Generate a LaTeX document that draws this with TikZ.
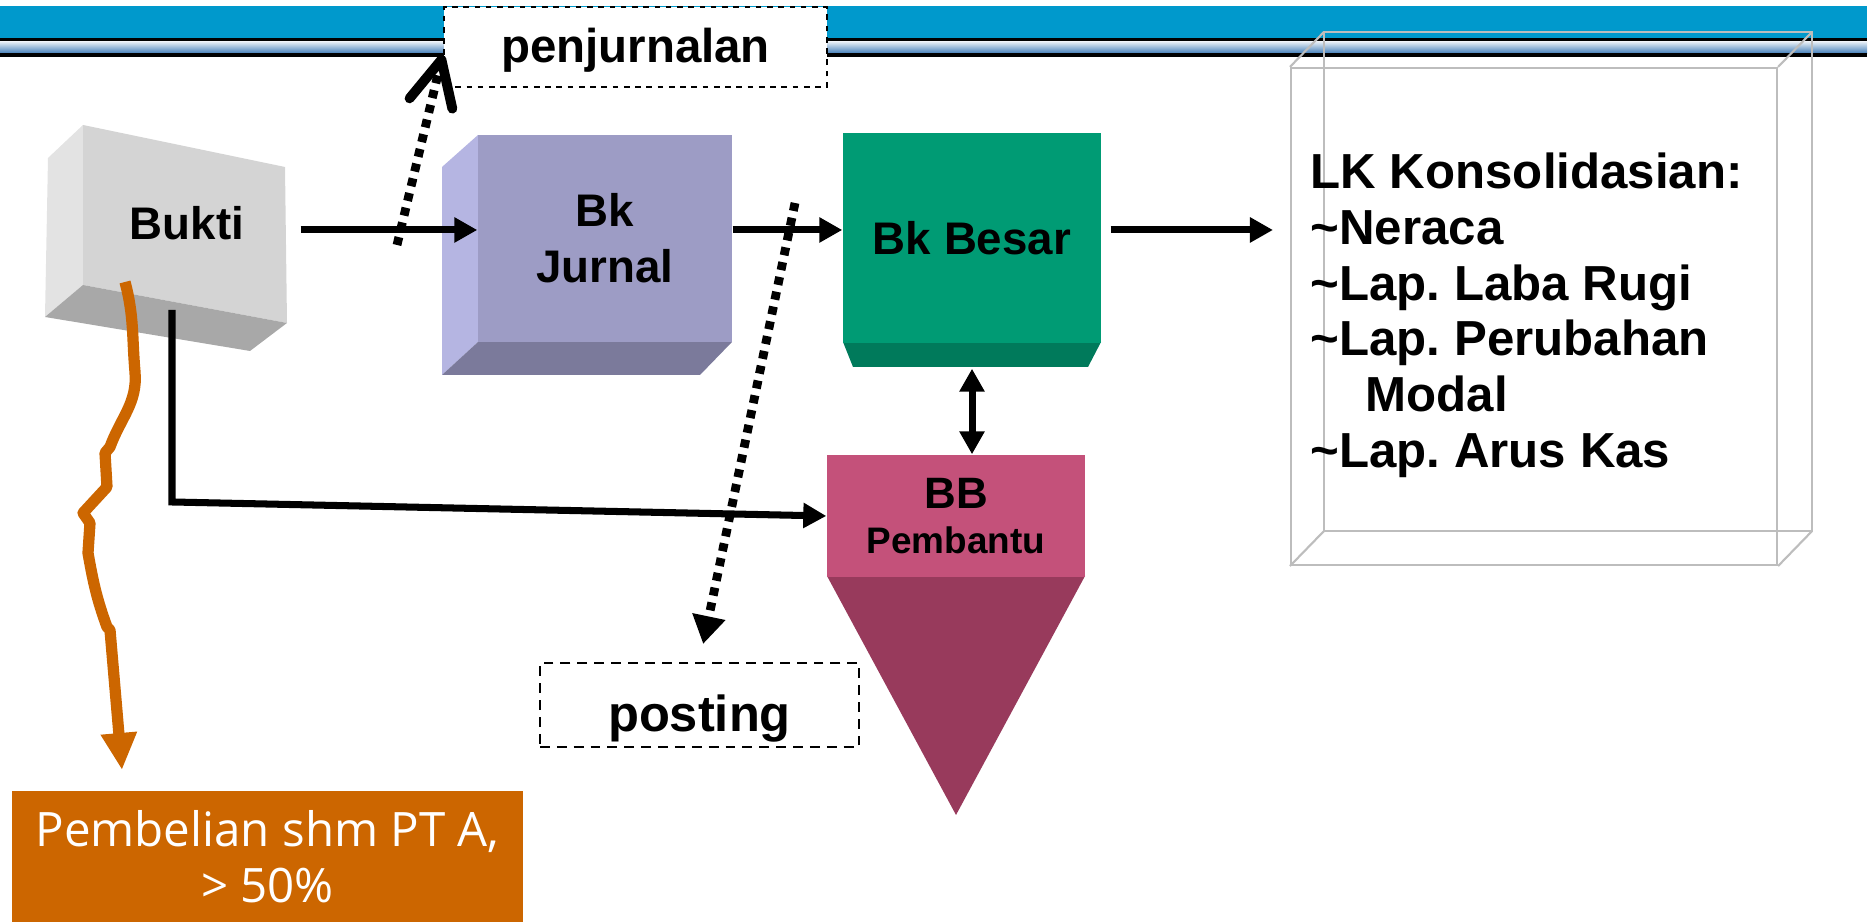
\documentclass[tikz,border=0pt]{standalone}
\usepackage{fontspec}
\setmainfont{Liberation Sans}
\newfontfamily\lightfont{Open Sans}
\usetikzlibrary{arrows.meta}
\frenchspacing

\definecolor{banner}{HTML}{0099CC}
\definecolor{stripedk}{HTML}{3A78B5}
\definecolor{stripelt}{HTML}{C5DDEF}
\definecolor{bkfront}{HTML}{D4D4D4}
\definecolor{bkleft}{HTML}{E3E3E3}
\definecolor{bkbottom}{HTML}{A8A8A8}
\definecolor{jrfront}{HTML}{9D9CC5}
\definecolor{jrleft}{HTML}{B5B5E2}
\definecolor{jrbottom}{HTML}{7B7A9B}
\definecolor{bsfront}{HTML}{009B74}
\definecolor{bsbottom}{HTML}{007A5B}
\definecolor{bbrect}{HTML}{C4517A}
\definecolor{bbtri}{HTML}{983A5C}
\definecolor{orng}{HTML}{CC6600}
\definecolor{lkline}{HTML}{BDBDBD}

\begin{document}
\begin{tikzpicture}[
    >={Triangle[length=2.3mm,width=2.4mm]},
    box/.style={inner sep=0pt, align=center, font=\bfseries\fontsize{13}{16}\selectfont},
    edge/.style={->, line width=2pt},
    dotline/.style={line width=2.5pt, dash pattern=on 2.3pt off 2pt},
    note/.style={draw, fill=white, line width=0.8pt, inner sep=0pt}]

  \useasboundingbox (0,0) rectangle (18.71,9.22);

  % banner
  \fill[banner] (0,9.16) rectangle (18.67,8.83);
  \shade[top color=white, middle color=stripelt, bottom color=stripedk] (0,8.82) rectangle (18.67,8.68);
  \draw[line width=0.6pt] (0,8.825) -- (18.67,8.825);
  \draw[line width=1.2pt] (0,8.67) -- (18.67,8.67);

  % Bukti
  \fill[bkleft] (0.48,7.64) -- (0.83,7.97) -- (0.83,6.37) -- (0.45,6.05) -- cycle;
  \fill[bkfront] (0.83,7.97) -- (2.85,7.55) -- (2.87,5.99) -- (0.83,6.37) -- cycle;
  \fill[bkbottom] (0.45,6.05) -- (0.83,6.37) -- (2.87,5.99) -- (2.50,5.71) -- cycle;
  \node[box, minimum width=2.26cm] (bukti) at (1.87,6.99) {Bukti};

  % Bk Jurnal
  \fill[jrleft] (4.42,7.55) -- (4.78,7.87) -- (4.78,5.80) -- (4.42,5.47) -- cycle;
  \fill[jrbottom] (4.42,5.47) -- (4.78,5.80) -- (7.32,5.80) -- (7.00,5.47) -- cycle;
  \node[box, fill=jrfront, minimum width=2.54cm, minimum height=2.07cm] (jurnal) at (6.05,6.835) {Bk\\Jurnal};

  % Bk Besar
  \fill[bsbottom] (8.43,5.80) -- (11.01,5.80) -- (10.88,5.55) -- (8.53,5.55) -- cycle;
  \node[box, fill=bsfront, minimum width=2.58cm, minimum height=2.10cm] (besar) at (9.72,6.84) {Bk Besar};

  % BB Pembantu
  \fill[bbtri] (8.27,3.46) -- (10.85,3.46) -- (9.56,1.07) -- cycle;
  \node[box, fill=bbrect, minimum width=2.58cm, minimum height=1.22cm,
        font=\bfseries\fontsize{10.5}{12.8}\selectfont] (bb) at (9.56,4.06)
        {{\fontsize{12.5}{12.8}\selectfont BB}\\Pembantu};

  % LK Konsolidasian
  \node[draw=lkline, line width=0.6pt, minimum width=4.86cm, minimum height=4.97cm] (lk) at (15.34,6.055) {};
  \draw[lkline, line width=0.6pt] ([shift={(0.34,0.35)}]lk.south west) rectangle ([shift={(0.34,0.35)}]lk.north east);
  \foreach \c in {south west, south east, north west, north east}
    \draw[lkline, line width=0.6pt] (lk.\c) -- ([shift={(0.34,0.35)}]lk.\c);
  \node[inner sep=0pt, anchor=north west, align=left,
        font=\bfseries\fontsize{14}{15.9}\selectfont] (lktext) at (13.10,7.70)
        {LK Konsolidasian:\\
         \textasciitilde Neraca\\
         \textasciitilde Lap. Laba Rugi\\
         \textasciitilde Lap. Perubahan\\
         \hspace*{0.55cm}Modal\\
         \textasciitilde Lap. Arus Kas};

  % Pembelian
  \node[fill=orng, text=white, minimum width=5.11cm, minimum height=1.31cm, inner sep=0pt, align=center,
        font=\lightfont\fontsize{13.5}{15.9}\selectfont] (beli) at (2.675,0.655)
        {Pembelian shm PT A,\\ > 50\%};

  % notes
  \node[note, dash pattern=on 1.6pt off 1.6pt, minimum width=3.83cm, minimum height=0.80cm,
        text height=0.46cm, text depth=0.14cm, font=\bfseries\fontsize{13.5}{16}\selectfont] (penj) at (6.355,8.75) {penjurnalan};
  \node[note, dash pattern=on 2.8pt off 2pt, minimum width=3.19cm, minimum height=0.84cm,
        text height=0.66cm, text depth=0.12cm, font=\bfseries\fontsize{14.4}{17}\selectfont] (post) at (6.995,2.17) {posting};

  % connectors
  \coordinate (row) at (0,6.92);
  \coordinate (bkdown) at (1.72,6.12);
  \coordinate (bend) at (1.72,4.20);
  \coordinate (bkorange) at (1.25,6.40);
  \coordinate (otip) at (1.22,1.52);
  \coordinate (jstart) at (3.97,6.77);
  \coordinate (pstart) at (7.95,7.19);

  \draw[edge] (bukti.east |- row) -- (jurnal.west |- row);
  \draw[edge] (jurnal.east |- row) -- (besar.west |- row);
  \draw[edge, shorten <=0.09cm, shorten >=0.17cm] (besar.east |- row) -- (lk.west |- row);
  \draw[edge, <->] ([yshift=-0.25cm]besar.south) -- (bb.north -| besar.south);
  \draw[edge] (bkdown) -- (bend) -- (bb.west);

  \draw[orng, line width=3.2pt, line join=round, -{Triangle[length=3.7mm,width=3.4mm]}]
    (bkorange) to[out=-75,in=95] (1.35,5.50) to[out=-85,in=70] (1.10,4.75) -- (1.05,4.69)
    -- (1.07,4.35) -- (0.83,4.09) -- (0.90,3.99) -- (0.88,3.69) to[out=-80,in=110] (1.07,2.95)
    -- (1.10,2.92) -- (otip);

  \draw[dotline, -{Straight Barb[length=4.5mm,width=4.4mm,round,line width=2.8pt]}] (jstart) -- ([yshift=-0.08cm]penj.west);
  \draw[dotline, -{Triangle[length=2.8mm,width=3.2mm]}, shorten >=0.18cm] (pstart) -- (post.north);
\end{tikzpicture}
\end{document}
